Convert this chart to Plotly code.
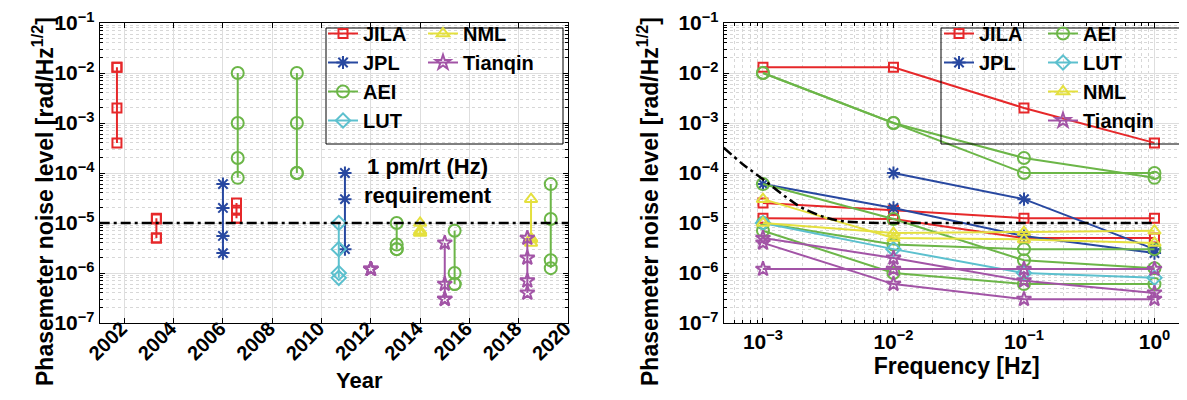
import plotly.graph_objects as go

# ---------------- data ----------------
freqs = [1e-3, 1e-2, 1e-1, 1.0]

jila_years = [2001.7, 2003.3, 2006.55]
jila_noise = [[1.3e-2, 1.3e-2, 2e-3, 4e-4],
              [1.25e-5, 1.2e-5, 5e-6, 5e-6],
              [2.5e-5, 1.8e-5, 1.25e-5, 1.25e-5]]

jpl_years = [2006.0, 2010.95]
jpl_noise = [[6e-5, 2e-5, 5.5e-6, 2.5e-6],
             [None, 1e-4, 3e-5, 3e-6]]

aei_years = [2006.6, 2009.0, 2013.05, 2015.4, 2019.3]
aei_noise = [[1e-2, 1e-3, 2e-4, 8e-5],
             [1e-2, 1e-3, 1e-4, 1e-4],
             [1e-5, 3.7e-6, 3e-6, 3e-6],
             [7e-6, 1e-6, 6e-7, 6e-7],
             [6e-5, 1.2e-5, 1.8e-6, 1.25e-6]]

lut_years = [2010.7]
lut_noise = [[1e-5, 3e-6, 1e-6, 8e-7]]

nml_years = [2014.0, 2018.5]
nml_noise = [[1e-5, 6.3e-6, 6.6e-6, 7e-6],
             [3e-5, 5e-6, 4.7e-6, 4e-6]]

tianqin_years = [2012.0, 2015.0, 2018.35]
tianqin_noise = [[1.2e-6, 1.2e-6, 1.2e-6, 1.2e-6],
                 [4e-6, 6e-7, 3e-7, 3e-7],
                 [5e-6, 2e-6, 7e-7, 4e-7]]

requirement_level = 1e-5
req_freq = [5e-4, 7e-4, 1e-3, 1.5e-3, 2e-3, 3e-3, 4e-3, 6e-3, 1e-2, 1e-1, 1.0]
req_level = [3.2e-4, 1.5e-4, 7.5e-5, 3.3e-5, 2e-5, 1.3e-5, 1.1e-5, 1.02e-5, 1e-5, 1e-5, 1e-5]

year_ticks = [2002, 2004, 2006, 2008, 2010, 2012, 2014, 2016, 2018, 2020]
y_tickvals = [1e-7, 1e-6, 1e-5, 1e-4, 1e-3, 1e-2, 1e-1]
y_ticktext = ["10<sup>−7</sup>", "10<sup>−6</sup>", "10<sup>−5</sup>", "10<sup>−4</sup>",
              "10<sup>−3</sup>", "10<sup>−2</sup>", "10<sup>−1</sup>"]
f_tickvals = [1e-3, 1e-2, 1e-1, 1.0]
f_ticktext = ["10<sup>−3</sup>", "10<sup>−2</sup>", "10<sup>−1</sup>", "10<sup>0</sup>"]

# ---------------- styles ----------------
FONT = "Liberation Sans"
labs = [
    ("JILA", jila_years, jila_noise, "rgb(230,40,42)", "square-open", 9),
    ("JPL", jpl_years, jpl_noise, "rgb(40,72,160)", "asterisk-open", 11),
    ("AEI", aei_years, aei_noise, "rgb(108,182,72)", "circle-open", 12),
    ("LUT", lut_years, lut_noise, "rgb(92,192,206)", "diamond-open", 11),
    ("NML", nml_years, nml_noise, "rgb(228,224,62)", "triangle-up-open", 11),
    ("Tianqin", tianqin_years, tianqin_noise, "rgb(162,84,166)", "star-open", 11),
]
left_legend = {"JILA": "legend", "JPL": "legend", "AEI": "legend", "LUT": "legend",
               "NML": "legend2", "Tianqin": "legend2"}
right_legend = {"JILA": "legend3", "JPL": "legend3", "AEI": "legend4", "LUT": "legend4",
                "NML": "legend4", "Tianqin": "legend4"}

fig = go.Figure()

for name, years, noise, color, symbol, msize in labs:
    for i, (yr, vals) in enumerate(zip(years, noise)):
        yv = [v for v in vals if v is not None]
        fig.add_trace(go.Scatter(
            x=[yr] * len(yv), y=yv, mode="lines+markers", name=name,
            line=dict(color=color, width=2),
            marker=dict(symbol=symbol, size=msize, color=color, line=dict(color=color, width=2)),
            xaxis="x", yaxis="y", showlegend=(i == 0), legend=left_legend[name],
            legendgroup="L" + name))

for name, years, noise, color, symbol, msize in labs:
    for i, vals in enumerate(noise):
        fx = [f for f, v in zip(freqs, vals) if v is not None]
        fy = [v for v in vals if v is not None]
        fig.add_trace(go.Scatter(
            x=fx, y=fy, mode="lines+markers", name=name,
            line=dict(color=color, width=2),
            marker=dict(symbol=symbol, size=msize, color=color, line=dict(color=color, width=2)),
            xaxis="x2", yaxis="y2", showlegend=(i == 0), legend=right_legend[name],
            legendgroup="R" + name))

fig.add_trace(go.Scatter(
    x=req_freq, y=req_level, mode="lines",
    line=dict(color="black", width=2.5, dash="10px,4px,3px,4px", shape="spline"),
    xaxis="x2", yaxis="y2", showlegend=False))

# requirement line on the left panel
fig.add_shape(type="line", xref="x domain", yref="y", x0=0, x1=1,
              y0=requirement_level, y1=requirement_level,
              line=dict(color="black", width=2.5, dash="10px,4px,3px,4px"), layer="above")

W, H = 1187, 400
def px(xp):
    return xp / W
def py(yp):
    return 1 - yp / H

grid_major = "rgb(222,222,222)"
grid_minor = "rgb(215,215,215)"
tickfont = dict(family=FONT, size=21, color="black", weight="bold")

common_axis = dict(showline=True, linecolor="black", linewidth=1, mirror="allticks",
                   ticks="inside", ticklen=5, tickcolor="black",
                   showgrid=True, gridcolor=grid_major, gridwidth=1, zeroline=False,
                   tickfont=tickfont, automargin=False)

yaxis_common = dict(common_axis, type="log", range=[-7, -1],
                    tickmode="array", tickvals=y_tickvals, ticktext=y_ticktext,
                    minor=dict(dtick="D1", ticks="inside", ticklen=3, tickcolor="black",
                               showgrid=True, gridcolor=grid_minor, griddash="dot"))

fig.update_layout(
    width=W, height=H,
    margin=dict(l=0, r=0, t=0, b=0, autoexpand=False),
    paper_bgcolor="white", plot_bgcolor="white",
    font=dict(family=FONT, color="black", size=18, weight="bold"),
    xaxis=dict(common_axis, domain=[px(91.7), px(560)], range=[2001, 2020],
               tickmode="array", tickvals=year_ticks, tickangle=-45,
               tickfont=dict(family=FONT, size=20, color="black", weight="bold"),
               ticklabelstandoff=-15, ticklabelshift=-3,
               anchor="y"),
    yaxis=dict(yaxis_common, domain=[py(315), py(15)], anchor="x"),
    xaxis2=dict(common_axis, type="log", domain=[px(715.7), px(1181.7)],
                range=[-3.301, 0.27], tickmode="array", tickvals=f_tickvals, ticktext=f_ticktext,
                minor=dict(dtick="D1", ticks="inside", ticklen=3, tickcolor="black",
                           showgrid=True, gridcolor=grid_minor, griddash="dot"),
                title=dict(text="Frequency [Hz]", font=dict(family=FONT, size=23, weight="bold"), standoff=2),
                anchor="y2"),
    yaxis2=dict(yaxis_common, domain=[py(315), py(15)], anchor="x2"),
    showlegend=True,
)

legend_common = dict(bgcolor="rgba(0,0,0,0)", borderwidth=0,
                     font=dict(family=FONT, size=20, color="black", weight="bold"),
                     xanchor="left", yanchor="top", traceorder="normal",
                     itemwidth=30, tracegroupgap=0)
fig.update_layout(
    legend=dict(legend_common, x=px(315), y=py(6)),
    legend2=dict(legend_common, x=px(415), y=py(6)),
    legend3=dict(legend_common, x=px(931), y=py(6)),
    legend4=dict(legend_common, x=px(1035), y=py(6)),
)

# legend boxes
fig.add_shape(type="rect", xref="paper", yref="paper", x0=px(318), x1=px(555), y0=py(20), y1=py(136),
              line=dict(color="black", width=1), fillcolor="rgba(0,0,0,0)", layer="above")
fig.add_shape(type="rect", xref="paper", yref="paper", x0=px(933), x1=px(1176), y0=py(20), y1=py(136),
              line=dict(color="black", width=1), fillcolor="rgba(0,0,0,0)", layer="above")

# annotations
fig.add_annotation(x=2014.3, y=-4.16, xref="x", yref="y", text="1 pm/rt (Hz)<br>requirement",
                   showarrow=False, font=dict(family=FONT, size=22, weight="bold", color="black"))
fig.add_annotation(x=px(326), y=py(387), xref="paper", yref="paper", text="Year",
                   showarrow=False, font=dict(family=FONT, size=22, weight="bold", color="black"))
ytitle = "Phasemeter noise level [rad/Hz<sup>1/2</sup>]"
fig.add_annotation(x=px(18), y=py(194), xref="paper", yref="paper", text=ytitle, textangle=-90,
                   showarrow=False, font=dict(family=FONT, size=23, weight="bold", color="black"))
fig.add_annotation(x=px(640), y=py(194), xref="paper", yref="paper", text=ytitle, textangle=-90,
                   showarrow=False, font=dict(family=FONT, size=23, weight="bold", color="black"))

fig.write_html("out.html")
